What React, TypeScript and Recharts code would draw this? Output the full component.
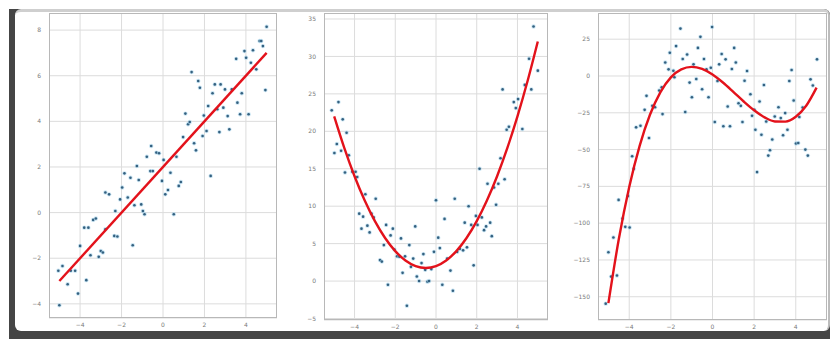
import React from "react";
import {
  ScatterChart,
  Scatter,
  XAxis,
  YAxis,
  CartesianGrid,
  ReferenceLine,
} from "recharts";

// scatter samples, [x, y]
const linearPoints: [number, number][] = [
  [5.0, 8.15], [-5.0, -4.06], [-5.05, -2.55], [-4.85, -2.34], [-4.6, -3.14],
  [-4.45, -2.55], [-4.24, -2.55], [-4.1, -3.55], [-4.0, -1.46], [-3.7, -2.96],
  [-3.8, -0.66], [-3.6, -0.66], [-3.5, -1.87], [-3.37, -0.32], [-3.24, -0.26],
  [-3.1, -1.94], [-3.0, -1.68], [-2.9, -1.75], [-2.78, -0.73], [-2.78, 0.88],
  [-2.6, 0.8], [-2.35, -1.02], [-2.2, -1.05], [-2.3, 0.07], [-2.07, 0.58],
  [-1.97, 1.1], [-1.86, 1.72], [-1.7, 0.66], [-1.57, 1.53], [-1.46, -1.43],
  [-1.38, 0.32], [-1.26, 2.04], [-1.17, 1.43], [-1.05, 0.36], [-0.97, 0.07],
  [-0.89, -0.07], [-0.78, 2.45], [-0.61, 1.82], [-0.49, 1.82], [-0.57, 2.92],
  [-0.32, 2.63], [-0.19, 2.6], [-0.05, 1.39], [0.03, 2.31], [0.11, 0.8],
  [0.24, 0.99], [0.36, 1.75], [0.52, -0.07], [0.65, 2.45], [0.76, 1.17],
  [0.86, 1.34], [0.97, 3.31], [1.08, 4.34], [1.21, 3.87], [1.29, 3.97],
  [1.38, 6.16], [1.5, 3.04], [1.59, 2.73], [1.7, 5.77], [1.78, 5.47],
  [1.91, 3.36], [1.97, 4.26], [2.1, 3.58], [2.18, 4.67], [2.3, 1.61],
  [2.39, 5.23], [2.5, 5.62], [2.62, 4.53], [2.72, 3.53], [2.78, 5.62],
  [2.91, 4.6], [2.99, 5.4], [3.12, 4.23], [3.2, 3.65], [3.32, 5.4],
  [3.53, 6.74], [3.59, 4.82], [3.72, 4.31], [3.8, 5.23], [3.93, 7.08],
  [4.01, 6.79], [4.13, 4.31], [4.24, 6.57], [4.34, 7.12], [4.5, 6.28],
  [4.66, 7.52], [4.74, 7.52], [4.82, 7.3], [4.94, 5.37],
];

const quadPoints: [number, number][] = [
  [-5.12, 22.8], [-4.79, 23.9], [-4.99, 17.1], [-4.87, 18.3], [-4.66, 17.4],
  [-4.58, 21.6], [-4.39, 19.8], [-4.47, 14.5], [-4.28, 16.8], [-4.11, 14.6],
  [-3.95, 14.6], [-3.87, 13.9], [-3.77, 9.0], [-3.66, 7.0], [-3.58, 8.6],
  [-3.47, 11.6], [-3.37, 7.4], [-3.26, 6.5], [-3.17, 9.0], [-3.06, 8.5],
  [-2.96, 11.0], [-2.75, 2.8], [-2.66, 2.6], [-2.56, 4.8], [-2.45, 7.5],
  [-2.36, -0.5], [-2.23, 6.1], [-2.12, 7.0], [-2.04, 4.2], [-1.91, 3.3],
  [-1.8, 3.25], [-1.72, 5.7], [-1.64, 1.1], [-1.52, 3.3], [-1.43, -3.3],
  [-1.31, 4.8], [-1.23, 1.9], [-1.12, 3.0], [-1.02, 7.3], [-0.94, 0.6],
  [-0.83, 0.0], [-0.71, 2.4], [-0.62, 3.6], [-0.53, 1.5], [-0.42, -0.1],
  [-0.34, 0.0], [-0.23, 1.6], [-0.1, 3.9], [0.0, 10.8], [0.11, 5.8],
  [0.19, 4.4], [0.31, -0.5], [0.42, 8.3], [0.55, 3.0], [0.71, 1.4],
  [0.83, -1.3], [0.92, 11.0], [1.04, 3.9], [1.17, 4.3], [1.33, 4.1],
  [1.41, 7.8], [1.52, 4.5], [1.6, 10.0], [1.73, 7.5], [1.85, 2.1],
  [1.96, 8.7], [2.04, 7.5], [2.14, 15.0], [2.25, 8.5], [2.36, 6.8],
  [2.46, 7.3], [2.53, 13.0], [2.66, 7.8], [2.74, 6.0], [2.85, 12.5],
  [2.95, 10.2], [3.06, 13.0], [3.17, 16.4], [3.27, 25.6], [3.37, 13.6],
  [3.47, 20.2], [3.58, 20.6], [3.82, 23.9], [3.92, 23.1], [4.03, 24.3],
  [4.24, 20.3], [4.36, 26.2], [4.57, 29.7], [4.68, 25.6], [4.79, 34.0],
  [5.0, 28.1],
];

const cubicPoints: [number, number][] = [
  [-5.13, -154.7], [-5.0, -119.8], [-4.87, -136.3], [-4.76, -109.7], [-4.59, -135.6],
  [-4.51, -84.2], [-4.32, -96.8], [-4.19, -102.5], [-3.98, -102.9], [-4.06, -81.5],
  [-3.86, -54.5], [-3.78, -63.1], [-3.67, -34.9], [-3.46, -33.8], [-3.26, -23.0],
  [-3.17, -13.5], [-3.05, -42.1], [-2.89, -20.3], [-2.76, -21.2], [-2.56, -9.9],
  [-2.44, -7.7], [-2.4, -25.9], [-2.27, 9.2], [-2.11, 4.5], [-2.05, 15.8],
  [-1.88, 3.6], [-1.83, -0.9], [-1.75, 20.3], [-1.54, 32.2], [-1.43, 11.5],
  [-1.31, -24.5], [-1.22, 14.6], [-1.1, -4.5], [-0.99, -14.4], [-0.91, 7.9],
  [-0.78, -2.0], [-0.7, 19.1], [-0.58, 26.6], [-0.5, -9.0], [-0.41, 11.5],
  [-0.29, 4.5], [-0.19, -14.4], [-0.08, 5.6], [-0.02, 33.3], [0.11, -31.3],
  [0.24, -3.4], [0.32, 7.9], [0.44, 14.9], [0.52, -34.2], [0.63, 11.3],
  [0.73, -20.7], [0.84, -34.2], [0.93, 4.7], [1.04, 19.1], [1.12, 9.2],
  [1.25, -18.5], [1.36, -20.3], [1.44, -31.3], [1.54, -3.2], [1.66, 3.4],
  [1.82, -12.4], [1.9, -27.0], [2.01, -23.0], [2.06, -36.5], [2.14, -65.3],
  [2.26, -17.3], [2.35, -39.9], [2.47, -6.1], [2.58, -30.9], [2.68, -54.1],
  [2.76, -50.5], [2.87, -43.2], [2.99, -27.5], [3.17, -21.2], [3.28, -28.6],
  [3.39, -40.3], [3.49, -25.2], [3.6, -36.5], [3.69, -3.4], [3.8, 4.1],
  [3.9, -16.7], [4.01, -45.9], [4.12, -45.5], [4.17, -27.9], [4.33, -21.4],
  [4.46, -50.0], [4.58, -54.1], [4.71, -2.3], [4.82, -6.5], [5.02, 11.3],
];

// fitted curves, read at these x positions
const linearFitX = [-5, 5];
const linearFitY = [-3, 7];
const curveX = [
  -5, -4.5, -4, -3.5, -3, -2.5, -2, -1.5, -1, -0.5, 0,
  0.5, 1, 1.5, 2, 2.5, 3, 3.5, 4, 4.5, 5,
];
const quadFitY = [
  22, 17.75, 14, 10.75, 8, 5.75, 4, 2.75, 2, 1.75, 2,
  2.75, 4, 5.75, 8, 10.75, 14, 17.75, 22, 26.75, 32,
];
const cubicFitY = [
  -154.3, -110.8, -75.4, -47.45, -26.2, -10.94, -0.93, 4.55, 6.21, 4.79, 1,
  -4.43, -10.78, -17.33, -23.33, -28.1, -30.89, -30.99, -27.66, -20.2, -7.87,
];

const xTicks = [-4, -2, 0, 2, 4];
const linearYTicks = [-4, -2, 0, 2, 4, 6, 8];
const quadYTicks = [-5, 0, 5, 10, 15, 20, 25, 30, 35];
const cubicYTicks = [-150, -125, -100, -75, -50, -25, 0, 25];

const toXY = (pts: [number, number][]) => pts.map(([x, y]) => ({ x, y }));
const zipXY = (xs: number[], ys: number[]) => xs.map((x, i) => ({ x, y: ys[i] }));

const fmt = (v: number) => (v < 0 ? `\u2212${Math.abs(v)}` : `${v}`);

const tickStyle = { fontSize: 6, fill: "#7a7a7a", fontFamily: "DejaVu Sans" };
const GRID = "#dcdcdc";

function Dot(props: any) {
  const { cx, cy } = props;
  if (cx == null || cy == null) return <g />;
  return (
    <g>
      <circle cx={cx} cy={cy} r={2.2} fill="#9fd0ea" opacity={0.55} />
      <circle cx={cx} cy={cy} r={1.3} fill="#34607f" />
    </g>
  );
}

interface PanelProps {
  left: number;
  plotW: number;
  plotH: number;
  yDomain: [number, number];
  yTicks: number[];
  points: { x: number; y: number }[];
  fit: { x: number; y: number }[];
}

function Panel({ left, plotW, plotH, yDomain, yTicks, points, fit }: PanelProps) {
  const yw = 40;
  const xh = 20;
  return (
    <>
      <div style={{ position: "absolute", left: left - yw, top: 13 }}>
        <ScatterChart
          width={plotW + yw}
          height={plotH + xh}
          margin={{ top: 0, right: 0, bottom: 0, left: 0 }}
        >
          <CartesianGrid stroke={GRID} vertical={false} />
          {xTicks.map((t) => (
            <ReferenceLine key={t} x={t} stroke={GRID} strokeWidth={1} />
          ))}
          <XAxis
            type="number"
            dataKey="x"
            domain={[-5.5, 5.5]}
            allowDataOverflow
            ticks={xTicks}
            tickFormatter={fmt}
            tick={tickStyle}
            tickLine={false}
            axisLine={false}
            tickSize={0}
            tickMargin={5}
            height={xh}
          />
          <YAxis
            type="number"
            dataKey="y"
            domain={yDomain}
            allowDataOverflow
            ticks={yTicks}
            tickFormatter={fmt}
            tick={tickStyle}
            tickLine={false}
            axisLine={false}
            tickSize={0}
            tickMargin={8}
            width={yw}
          />
          <Scatter data={points} shape={<Dot />} isAnimationActive={false} />
          <Scatter
            data={fit}
            line={{ stroke: "#e3121b", strokeWidth: 2.4 }}
            lineJointType="monotoneX"
            shape={() => <g />}
            isAnimationActive={false}
          />
        </ScatterChart>
      </div>
      <div
        style={{
          position: "absolute",
          left,
          top: 13,
          width: plotW,
          height: plotH,
          border: "1px solid #b8b8b8",
          boxSizing: "border-box",
          pointerEvents: "none",
        }}
      />
    </>
  );
}

export default function App() {
  return (
    <div
      style={{
        position: "relative",
        width: 836,
        height: 339,
        background: "#ffffff",
        overflow: "hidden",
      }}
    >
      <style>{`body{margin:0}`}</style>
      <div
        style={{
          position: "absolute",
          left: 9,
          top: 9,
          width: 821,
          height: 330,
          background: "#454545",
          borderTopRightRadius: 6,
        }}
      />
      <div
        style={{
          position: "absolute",
          left: 15,
          top: 9,
          width: 815,
          height: 322,
          background: "#ffffff",
          borderTop: "3px solid #cfcfcf",
          borderRight: "2px solid #bcbcbc",
          borderRadius: 6,
          boxSizing: "border-box",
        }}
      />
      <Panel
        left={49}
        plotW={228}
        plotH={305}
        yDomain={[-4.62, 8.75]}
        yTicks={linearYTicks}
        points={toXY(linearPoints)}
        fit={zipXY(linearFitX, linearFitY)}
      />
      <Panel
        left={324}
        plotW={224}
        plotH={307}
        yDomain={[-5.2, 35.8]}
        yTicks={quadYTicks}
        points={toXY(quadPoints)}
        fit={zipXY(curveX, quadFitY)}
      />
      <Panel
        left={598}
        plotW={229}
        plotH={307}
        yDomain={[-165.8, 42.8]}
        yTicks={cubicYTicks}
        points={toXY(cubicPoints)}
        fit={zipXY(curveX, cubicFitY)}
      />
    </div>
  );
}
